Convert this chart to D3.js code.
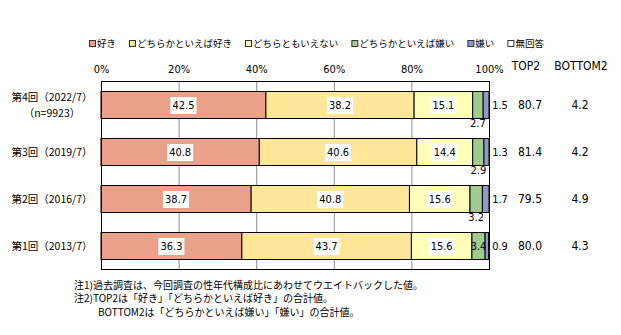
<!DOCTYPE html>
<html><head><meta charset="utf-8">
<script src="https://cdn.jsdelivr.net/npm/d3@7"></script>
<style>
body{margin:0;background:#fff;}
svg{display:block;}
text{font-family:"Noto Sans CJK JP","Noto Sans",sans-serif;fill:#000;}
.num{font-family:"Liberation Sans Narrow","DejaVu Sans Condensed","Liberation Sans",sans-serif;}
</style></head>
<body>
<svg id="chart" width="621" height="335"></svg>
<script>
const rounds = ["第4回（2022/7）","第3回（2019/7）","第2回（2016/7）","第1回（2013/7）"];
const roundSub = ["（n=9923）","","",""];
const seriesNames = ["好き","どちらかといえば好き","どちらともいえない","どちらかといえば嫌い","嫌い","無回答"];
const like = [42.5,40.8,38.7,36.3];
const ratherLike = [38.2,40.6,40.8,43.7];
const neutral = [15.1,14.4,15.6,15.6];
const ratherDislike = [2.7,2.9,3.2,3.4];
const dislike = [1.5,1.3,1.7,0.9];
const noAnswer = [0,0,0,0.1];
const top2 = [80.7,81.4,79.5,80.0];
const bottom2 = [4.2,4.2,4.9,4.3];
const xTicks = [0,20,40,60,80,100];
const notes = ["注1)過去調査は、今回調査の性年代構成比にあわせてウエイトバックした値。",
               "注2)TOP2は「好き」「どちらかといえば好き」の合計値。",
               "BOTTOM2は「どちらかといえば嫌い」「嫌い」の合計値。"];
const colors = ["#EBA08A","#FFE699","#FFFFB8","#A0CB8C","#8E9AC6","#FFFFFF"];

const seriesVals = [like, ratherLike, neutral, ratherDislike, dislike, noAnswer];
const table = rounds.map((r,i)=>{const o={round:r}; seriesNames.forEach((s,j)=>o[s]=seriesVals[j][i]); return o;});

const svg = d3.select("#chart");
const L=101, R=489, T=81, B=269;
const x = d3.scaleLinear().domain([0,100]).range([L,R]);
const p = 20/47;
const y = d3.scaleBand().domain(rounds).range([T,B]).paddingInner(p).paddingOuter(p/2);
const color = d3.scaleOrdinal().domain(seriesNames).range(colors);

// gridlines
svg.append("g").selectAll("line").data(xTicks.filter(t=>t>0&&t<100)).join("line")
  .attr("x1",d=>x(d)+0.5).attr("x2",d=>x(d)+0.5).attr("y1",T).attr("y2",B)
  .attr("stroke","#8c8c8c").attr("stroke-width",1);

// stacked bars
const stack = d3.stack().keys(seriesNames)(table);
const gBars = svg.append("g");
stack.forEach((layer,j)=>{
  gBars.selectAll(null).data(layer).join("rect")
    .attr("x",d=>x(d[0])).attr("width",d=>x(d[1])-x(d[0]))
    .attr("y",d=>y(d.data.round)+0.5).attr("height",y.bandwidth())
    .attr("fill",color(seriesNames[j])).attr("stroke","#000").attr("stroke-width",1)
    .attr("display",d=>d[1]-d[0]>0?null:"none");
});

// plot border
svg.append("rect").attr("x",L+0.5).attr("y",T+0.5).attr("width",R-L).attr("height",B-T)
  .attr("fill","none").attr("stroke","#000").attr("stroke-width",1);

// axis (top)
const ax = svg.append("g").attr("transform",`translate(0,${T})`)
  .call(d3.axisTop(x).tickValues(xTicks).tickFormat(d=>d+"%").tickSize(0).tickPadding(8));
ax.select(".domain").remove();
ax.selectAll("text").attr("class","num").style("font-family",'"Liberation Sans Narrow","DejaVu Sans Condensed",sans-serif').style("font-size","11px");

// data labels inside (boxed) for first three series
const gLab = svg.append("g");
[0,1,2].forEach(j=>{
  stack[j].forEach(d=>{
    const cx=(x(d[0])+x(d[1]))/2, cy=y(d.data.round)+y.bandwidth()/2+0.5;
    gLab.append("rect").attr("x",cx-13).attr("y",cy-8).attr("width",26).attr("height",17).attr("fill","#fff");
    gLab.append("text").attr("class","num").attr("x",cx).attr("y",cy).attr("dy","0.36em")
      .attr("text-anchor","middle").style("font-size","11px").text(d3.format(".1f")(d[1]-d[0]));
  });
});
// rather dislike labels
stack[3].forEach((d,i)=>{
  const v = ratherDislike[i];
  const cx=(x(d[0])+x(d[1]))/2;
  const inside = v>3.3;
  const cy = inside ? y(d.data.round)+y.bandwidth()/2+0.5 : y(d.data.round)+y.bandwidth()+5.5;
  gLab.append("text").attr("class","num").attr("x",cx).attr("y",cy).attr("dy","0.36em")
    .attr("text-anchor","middle").style("font-size","11px").text(d3.format(".1f")(v));
});
// dislike labels right of plot
dislike.forEach((v,i)=>{
  gLab.append("text").attr("class","num").attr("x",x(100)+11).attr("y",y(rounds[i])+y.bandwidth()/2+0.5).attr("dy","0.36em")
    .attr("text-anchor","middle").style("font-size","11px").text(d3.format(".1f")(v));
});
// TOP2 / BOTTOM2
svg.append("text").attr("class","num").attr("x",526).attr("y",66).attr("dy","0.36em").attr("text-anchor","middle").style("font-size","12px").text("TOP2");
svg.append("text").attr("class","num").attr("x",581).attr("y",66).attr("dy","0.36em").attr("text-anchor","middle").style("font-size","12px").text("BOTTOM2");
top2.forEach((v,i)=>{
  svg.append("text").attr("class","num").attr("x",530).attr("y",y(rounds[i])+y.bandwidth()/2+0.5).attr("dy","0.36em").attr("text-anchor","middle").style("font-size","12px").text(d3.format(".1f")(v));
});
bottom2.forEach((v,i)=>{
  svg.append("text").attr("class","num").attr("x",580).attr("y",y(rounds[i])+y.bandwidth()/2+0.5).attr("dy","0.36em").attr("text-anchor","middle").style("font-size","12px").text(d3.format(".1f")(v));
});

// category labels
rounds.forEach((r,i)=>{
  const cy = y(r)+y.bandwidth()/2+0.5;
  if(roundSub[i]){
    svg.append("text").attr("x",52).attr("y",cy-8).attr("dy","0.36em").attr("text-anchor","middle").style("font-size","10.5px").text(r);
    svg.append("text").attr("x",52).attr("y",cy+8).attr("dy","0.36em").attr("text-anchor","middle").style("font-size","10.5px").text(roundSub[i]);
  } else {
    svg.append("text").attr("x",52).attr("y",cy).attr("dy","0.36em").attr("text-anchor","middle").style("font-size","10.5px").text(r);
  }
});

// legend
const lg = svg.append("g");
let lx = 89;
seriesNames.forEach((s,j)=>{
  lg.append("rect").attr("x",lx+0.5).attr("y",40.5).attr("width",6).attr("height",6).attr("fill",color(s)).attr("stroke","#333");
  const t = lg.append("text").attr("x",lx+8).attr("y",44).attr("dy","0.36em").style("font-size","9.5px").text(s);
  lx += 8 + t.node().getComputedTextLength() + 13;
});

// notes
const noteX=[74,74,98], noteY=[285,298.5,312];
notes.forEach((n,i)=>{
  svg.append("text").attr("x",noteX[i]).attr("y",noteY[i]).attr("dy","0.36em").style("font-size","10px").text(n);
});
</script>
</body></html>
